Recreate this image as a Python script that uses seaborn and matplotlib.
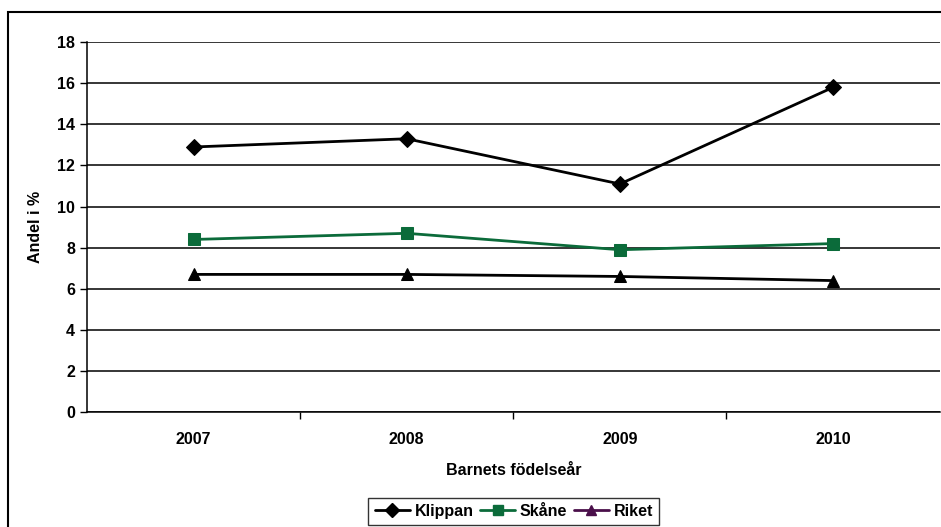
import pandas as pd
import seaborn as sns
import matplotlib.pyplot as plt
from matplotlib.lines import Line2D
from matplotlib.patches import Rectangle

# Data
years = ['2007', '2008', '2009', '2010']
klippan = [12.9, 13.3, 11.1, 15.8]
skane = [8.4, 8.7, 7.9, 8.2]
riket = [6.7, 6.7, 6.6, 6.4]

df = pd.DataFrame({
    'year': years * 3,
    'value': klippan + skane + riket,
    'series': ['Klippan'] * 4 + ['Skåne'] * 4 + ['Riket'] * 4,
})

sns.set_style('white')
plt.rcParams['font.family'] = ['Liberation Sans', 'DejaVu Sans']
plt.rcParams['text.color'] = 'black'
plt.rcParams['axes.labelcolor'] = 'black'
plt.rcParams['xtick.color'] = 'black'
plt.rcParams['ytick.color'] = 'black'

fig = plt.figure(figsize=(9.41, 5.27), dpi=100)
ax = fig.add_axes([0.0925, 0.218, 0.906, 0.702])

colors = {'Klippan': 'black', 'Skåne': '#0b6b3a', 'Riket': 'black'}
markers = {'Klippan': 'D', 'Skåne': 's', 'Riket': '^'}
sns.lineplot(data=df, x='year', y='value', hue='series', style='series',
             palette=colors, markers=markers, dashes=False, sort=False,
             linewidth=2, markersize=8, markeredgecolor=None, legend=False, ax=ax)

ax.set_xlim(-0.5, 3.5)
ax.set_ylim(0, 18)
ax.set_yticks(range(0, 19, 2))
ax.set_xticks(range(4))
ax.set_xticklabels(years)
ax.set_xticks([0.5, 1.5, 2.5], minor=True)
ax.tick_params(axis='x', which='major', length=0, pad=14, labelsize=11.5)
ax.tick_params(axis='x', which='minor', length=5, width=1, direction='out', bottom=True)
ax.tick_params(axis='y', length=5, width=1, direction='out', left=True, labelsize=11.5)
for lab in ax.get_xticklabels() + ax.get_yticklabels():
    lab.set_fontweight('bold')
ax.grid(axis='y', color='black', linewidth=1.1)
ax.set_axisbelow(True)
for s in ['top', 'right']:
    ax.spines[s].set_visible(False)
ax.spines['left'].set_color('black')
ax.spines['bottom'].set_color('black')
ax.spines['left'].set_linewidth(1.1)
ax.spines['bottom'].set_linewidth(1.1)

ax.set_xlabel('Barnets födelseår', fontsize=11.5, fontweight='bold', labelpad=12)
ax.set_ylabel('Andel i %', fontsize=11.5, fontweight='bold', labelpad=10)

handles = [
    Line2D([], [], color='black', marker='D', markersize=7, linewidth=2),
    Line2D([], [], color='#0b6b3a', marker='s', markersize=7, linewidth=2),
    Line2D([], [], color='#4a0f4a', marker='^', markersize=7, linewidth=2),
]
fig.legend(handles, ['Klippan', 'Skåne', 'Riket'], loc='lower center',
           bbox_to_anchor=(0.546, -0.012), ncol=3, frameon=True, fancybox=False,
           edgecolor='black', prop={'size': 11.5, 'weight': 'bold'},
           handlelength=2.2, columnspacing=0.4, handletextpad=0.3, borderpad=0.4)

fig.patches.append(Rectangle((0.009, -0.1), 1.2, 1.078, transform=fig.transFigure,
                             fill=False, edgecolor='black', linewidth=1.5))

fig.savefig('out.png', dpi=100)
